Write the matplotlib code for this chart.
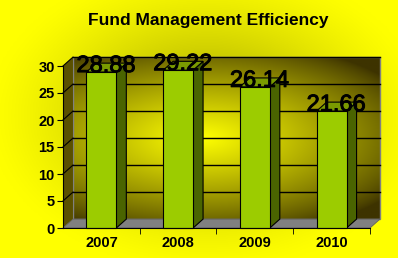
import numpy as np
import matplotlib
matplotlib.use("Agg")
import matplotlib.pyplot as plt
import matplotlib.patheffects as pe
from matplotlib.patches import Polygon, Rectangle

plt.rcParams["font.family"] = ["Liberation Sans", "DejaVu Sans"]

# data
years = ["2007", "2008", "2009", "2010"]
efficiency = [28.88, 29.22, 26.14, 21.66]
y_ticks = [0, 5, 10, 15, 20, 25, 30]

FRONT = "#9ccc00"
SIDE = "#4a6400"
TOP = "#7a9a00"
DX, DY = 0.13, 1.65   # 3d depth offset in data units
W = 0.39

fig = plt.figure(figsize=(3.98, 2.58), dpi=100)

# figure background: yellow with darker glow in the middle
bg = fig.add_axes([0, 0, 1, 1])
bg.set_axis_off()
yy, xx = np.mgrid[0:1:200j, 0:1:300j]
r = np.sqrt(((xx - 0.52) / 0.55) ** 2 + ((yy - 0.55) / 0.6) ** 2)
t = np.clip(1 - r, 0, 1)
c0 = np.array([1.0, 1.0, 0.0])
c1 = np.array([0.62, 0.62, 0.0])
img = c0 + (c1 - c0) * t[..., None] ** 1.3
bg.imshow(img, extent=[0, 1, 0, 1], aspect="auto", origin="lower")
bg.set_xlim(0, 1); bg.set_ylim(0, 1)

ax = fig.add_axes([63 / 398, 30 / 258, 307 / 398, 162 / 258])
ax.set_xlim(-0.5, 3.5)
ax.set_ylim(0, 30)
ax.patch.set_alpha(0)

# back wall gradient
x0, x1 = -0.5 + DX, 3.5 + DX
y0, y1 = DY, 30 + DY
gy, gx = np.mgrid[0:1:200j, 0:1:300j]
rr = np.sqrt(((gx - 0.42) / 0.75) ** 2 + ((gy - 0.5) / 0.62) ** 2)
tt = np.clip(1 - rr, 0, 1) ** 0.8
dark = np.array([0.24, 0.2, 0.0])
bright = np.array([1.0, 1.0, 0.0])
wall = dark + (bright - dark) * tt[..., None]
im = ax.imshow(wall, extent=[x0, x1, y0, y1], aspect="auto", origin="lower", zorder=0)
im.set_clip_on(False)
ax.add_patch(Rectangle((x0, y0), x1 - x0, y1 - y0, fill=False, ec="#808080", lw=1, zorder=1, clip_on=False))

# left wall
ax.add_patch(Polygon([(-0.5, 0), (x0, y0), (x0, y1), (-0.5, 30)], closed=True,
                     fc="#5a5000", ec="none", zorder=1, clip_on=False))
# floor
ax.add_patch(Polygon([(-0.5, 0), (3.5, 0), (x1, y0), (x0, y0)], closed=True,
                     fc="#808080", ec="#606060", lw=0.6, zorder=1, clip_on=False))

# gridlines on back wall and left wall
for v in y_ticks[1:]:
    ax.plot([x0, x1], [v + DY, v + DY], color="black", lw=1, zorder=2, clip_on=False)
    ax.plot([-0.5, x0], [v, v + DY], color="black", lw=0.8, zorder=2, clip_on=False)

# bars
for i, v in enumerate(efficiency):
    l, r_ = i - W / 2, i + W / 2
    ax.add_patch(Polygon([(r_, 0), (r_ + DX, DY), (r_ + DX, v + DY), (r_, v)], closed=True,
                         fc=SIDE, ec="black", lw=0.8, zorder=3, clip_on=False))
    ax.add_patch(Polygon([(l, v), (r_, v), (r_ + DX, v + DY), (l + DX, v + DY)], closed=True,
                         fc=TOP, ec="black", lw=0.8, zorder=3, clip_on=False))
    ax.add_patch(Rectangle((l, 0), W, v, fc=FRONT, ec="black", lw=0.8, zorder=4, clip_on=False))
    ax.text(i + 0.06, v, f"{v:.2f}", ha="center", va="baseline", fontsize=17,
            color="black", zorder=6, clip_on=False,
            path_effects=[pe.withStroke(linewidth=0.7, foreground="black")])

ax.set_yticks(y_ticks)
ax.set_xticks(range(len(years)))
ax.set_xticklabels(years)
ax.set_xticks([0.5, 1.5, 2.5, 3.5], minor=True)
ax.tick_params(axis="x", which="major", length=0, pad=6)
ax.tick_params(axis="x", which="minor", length=4, direction="out")
ax.tick_params(axis="y", length=4, direction="out", pad=2)
for lab in ax.get_xticklabels() + ax.get_yticklabels():
    lab.set_fontweight("bold")
    lab.set_fontsize(10.5)
for s in ("top", "right"):
    ax.spines[s].set_visible(False)
ax.spines["left"].set_zorder(5)
ax.spines["bottom"].set_zorder(5)

fig.text(208 / 398, 1 - 20 / 258, "Fund Management Efficiency", ha="center", va="center",
         fontsize=12.5, fontweight="bold")

fig.savefig("out.png", dpi=100)
